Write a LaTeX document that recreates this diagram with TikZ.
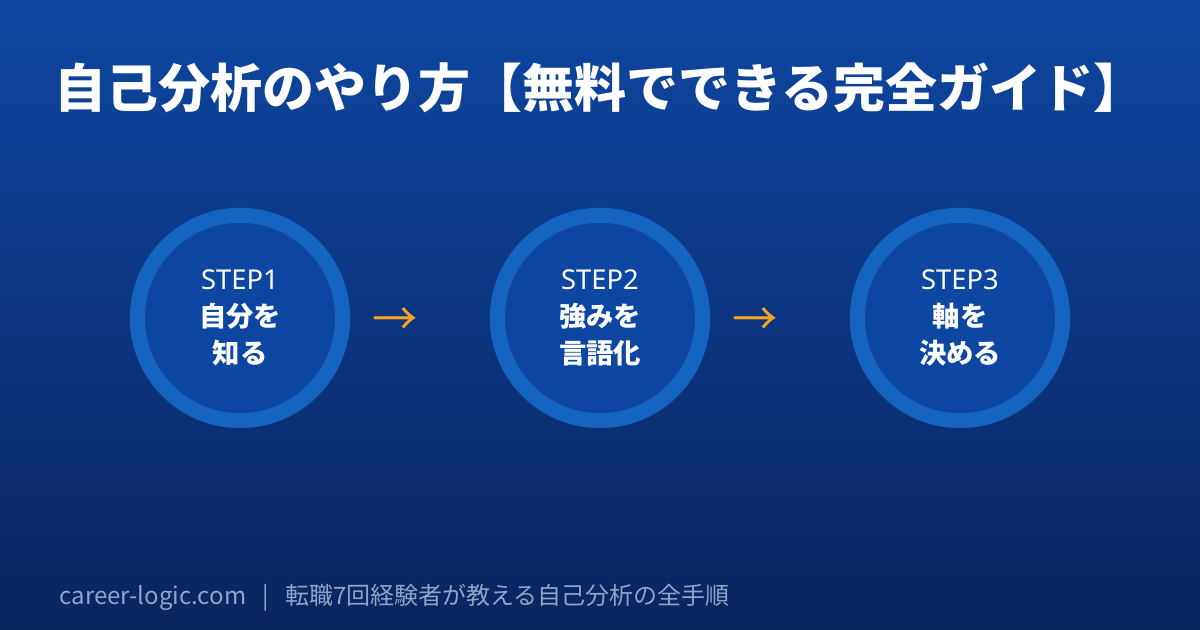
\documentclass[tikz,border=0pt]{standalone}
\usepackage{fontspec}
\setmainfont{Noto Sans CJK JP}
\newfontfamily\latinsans{Noto Sans}
\usetikzlibrary{positioning}
\definecolor{bgtop}{HTML}{0D47A1}
\definecolor{bgbot}{HTML}{0A2460}
\definecolor{ringcol}{HTML}{1565C0}
\definecolor{discfill}{HTML}{0D47A1}
\definecolor{arrowcol}{HTML}{F5A623}
\definecolor{footcol}{HTML}{90A4C8}
\tikzset{
	stepdisc/.style={circle, draw=ringcol, line width=11.25pt, fill=discfill,
		minimum size=154pt, text=white, align=center,
		font=\fontsize{20.5}{28}\selectfont\bfseries},
	flowarrow/.style={text=arrowcol, font=\fontsize{34}{34}\selectfont},
}
\begin{document}
\begin{tikzpicture}[x=0.75pt,y=-0.75pt]
	\shade[top color=bgtop, bottom color=bgbot] (0,0) rectangle (1200,630);
	\useasboundingbox (0,0) rectangle (1200,630);
	\node[anchor=west, text=white, font=\fontsize{39}{44}\selectfont\bfseries] (title) at (50,88)
		{自己分析のやり方【無料でできる完全ガイド】};
	\node[stepdisc] (s1) at (240,318) {{\latinsans STEP1}\\自分を\\知る};
	\node[stepdisc] (s2) at (600,318) {{\latinsans STEP2}\\強みを\\言語化};
	\node[stepdisc] (s3) at (960,318) {{\latinsans STEP3}\\軸を\\決める};
	\node[flowarrow] (a1) at (395,322) {→};
	\node[flowarrow] (a2) at (755,322) {→};
	\node[anchor=west, text=footcol, font=\fontsize{18}{22}\selectfont] (foot) at (55,598)
		{career-logic.com\ \ \ |\ \ \ 転職7回経験者が教える自己分析の全手順};
\end{tikzpicture}
\end{document}
